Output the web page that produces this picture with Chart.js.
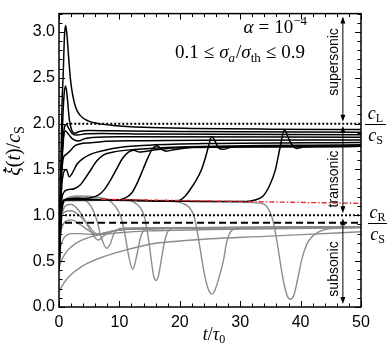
<!DOCTYPE html>
<html>
<head>
<meta charset="utf-8">
<script src="https://cdn.jsdelivr.net/npm/chart.js@4.4.1/dist/chart.umd.min.js"></script>
<style>
  html, body { margin: 0; padding: 0; background: #fff; }
</style>
</head>
<body>
<canvas id="chart" width="392" height="348"></canvas>
<script>
// axis ticks
const xTicks = [0, 10, 20, 30, 40, 50];
const yTicks = [0, 0.5, 1.0, 1.5, 2.0, 2.5, 3.0];

// reference speeds (in units of c_S)
const cL = 2.0;
const cS = 1.0;
const cR = 0.92;
const redLine = [[7, 1.175], [50, 1.13]];

// black curves: end up supersonic, [t/tau0, xi'/cS]
const blackA = [[0,0.6],[0.3,1.5],[0.5,2.2],[0.7,2.55],[0.9,2.95],[1.1,3.07],[1.3,2.98],[1.6,2.72],[1.9,2.48],[2.3,2.3],[2.8,2.17],[3.5,2.09],[4.8,2.03],[6.5,2.0],[9,1.98],[14,1.96],[22,1.948],[35,1.94],[50,1.936]];
const blackB = [[0,0.55],[0.3,1.3],[0.6,2.0],[0.85,2.32],[1.1,2.41],[1.35,2.3],[1.7,2.05],[2.1,1.93],[2.6,1.895],[3.4,1.915],[5,1.925],[9,1.922],[20,1.915],[50,1.907]];
const blackC = [[0,0.5],[0.35,1.4],[0.75,1.88],[1.2,1.99],[1.6,1.95],[2.2,1.89],[3,1.875],[4.5,1.89],[7,1.893],[14,1.888],[50,1.879]];
const blackD = [[0,0.5],[0.35,1.35],[0.7,1.8],[1.05,1.92],[1.5,1.89],[2.3,1.83],[3.2,1.81],[4.2,1.835],[5.5,1.85],[10,1.857],[50,1.851]];
const blackE = [[0,0.5],[0.3,1.25],[0.7,1.62],[1.1,1.66],[1.8,1.7],[2.65,1.76],[3.6,1.78],[4.9,1.79],[7,1.803],[12,1.813],[25,1.82],[50,1.822]];
const blackF = [[0,0.45],[0.3,1.15],[0.7,1.45],[1.2,1.5],[1.7,1.42],[2.2,1.46],[3,1.56],[4,1.62],[5.4,1.67],[7.6,1.71],[10,1.74],[15,1.765],[25,1.783],[50,1.794]];
const blackG = [[0,0.45],[0.3,1.05],[0.7,1.24],[1.5,1.28],[2.5,1.29],[3.5,1.33],[4.4,1.41],[5.3,1.5],[6.2,1.59],[7.4,1.66],[9,1.69],[12,1.715],[20,1.745],[50,1.769]];
const jumpA = [[0,0.4],[0.4,1.05],[1,1.17],[3,1.185],[5,1.19],[6.5,1.22],[7.5,1.28],[8.5,1.38],[9.5,1.5],[10.5,1.62],[11.5,1.69],[12.4,1.71],[13.3,1.69],[14.5,1.7],[18,1.73],[30,1.748],[50,1.752]];
const jumpB = [[0,0.4],[0.4,1.05],[1,1.17],[5,1.175],[10,1.17],[11,1.19],[12,1.24],[13,1.36],[13.9,1.5],[14.8,1.64],[15.5,1.73],[16.2,1.76],[17,1.72],[17.8,1.7],[19,1.715],[22,1.74],[50,1.752]];
const jumpC = [[0,0.4],[0.4,1.05],[1,1.17],[8,1.17],[14,1.16],[18,1.155],[19.8,1.16],[20.9,1.21],[21.8,1.29],[22.6,1.37],[23.6,1.5],[24.2,1.62],[24.7,1.74],[25.3,1.86],[25.9,1.8],[26.5,1.73],[27.2,1.72],[28.3,1.74],[31,1.75],[50,1.752]];
const jumpD = [[0,0.4],[0.4,1.05],[1,1.17],[8,1.17],[18,1.155],[25,1.15],[31,1.15],[32.6,1.17],[33.8,1.21],[34.9,1.33],[35.8,1.49],[36.6,1.74],[37.3,1.93],[38.2,1.81],[38.8,1.75],[39.3,1.73],[40.4,1.745],[43,1.75],[50,1.752]];

// gray curves: end up subsonic
const grayA = [[0,0.4],[0.4,1.05],[1,1.16],[8,1.165],[18,1.155],[25,1.15],[33.5,1.13],[34.5,1.09],[35.3,0.97],[36,0.75],[36.6,0.5],[37.2,0.27],[37.8,0.12],[38.3,0.085],[38.9,0.13],[39.5,0.3],[40.2,0.52],[41,0.68],[41.8,0.76],[43,0.82],[45,0.855],[50,0.87]];
const grayB = [[0,0.4],[0.4,1.05],[1,1.16],[8,1.165],[15,1.16],[19,1.15],[20.5,1.13],[21.5,1.09],[22.3,1.0],[22.9,0.82],[23.5,0.58],[24.2,0.32],[24.8,0.18],[25.3,0.14],[25.8,0.18],[26.4,0.3],[27.2,0.5],[27.8,0.72],[28.4,0.82],[29.5,0.855],[35,0.865],[50,0.875]];
const grayC = [[0,0.4],[0.4,1.05],[1,1.16],[6,1.17],[11.5,1.16],[12.7,1.13],[13.5,1.08],[14.2,0.97],[14.8,0.75],[15.3,0.5],[15.7,0.33],[16.1,0.29],[16.5,0.35],[17,0.54],[17.5,0.72],[18.1,0.83],[19,0.86],[25,0.865],[50,0.875]];
const grayD = [[0,0.5],[0.4,1.0],[1,1.17],[3,1.21],[6,1.2],[8,1.17],[9.3,1.1],[10.2,0.99],[10.9,0.8],[11.5,0.57],[12.2,0.41],[12.9,0.57],[13.5,0.76],[14.2,0.84],[15.5,0.855],[20,0.86],[50,0.875]];
const grayE = [[0,0.5],[0.4,0.98],[1,1.17],[2.6,1.2],[4.2,1.17],[5.3,1.1],[6.2,0.96],[7,0.76],[7.9,0.64],[8.5,0.69],[9.1,0.8],[10.4,0.86],[15,0.865],[50,0.875]];
const grayF = [[0,0.45],[0.4,0.93],[1,1.1],[2,1.12],[3.3,1.05],[4.4,0.93],[5.5,0.8],[6.5,0.73],[7.5,0.78],[9,0.83],[12,0.85],[50,0.875]];
const grayG = [[0,0.8],[0.4,0.97],[1,1.04],[2,1.05],[3.5,0.99],[5,0.88],[6.2,0.8],[7.5,0.8],[9,0.83],[14,0.855],[50,0.87]];
const grayH = [[0,0.7],[0.4,0.85],[1,0.93],[2,0.95],[3.5,0.9],[5,0.83],[6.3,0.79],[7.8,0.81],[10,0.84],[20,0.86],[50,0.87]];
const grayI = [[0,0.6],[0.5,0.71],[1,0.77],[2,0.8],[3.5,0.8],[5.5,0.79],[7,0.8],[9,0.83],[12,0.85],[50,0.868]];
const grayJ = [[0,0.43],[0.5,0.52],[1,0.58],[2.1,0.66],[3.5,0.72],[5,0.76],[7,0.79],[10,0.81],[15,0.83],[25,0.845],[50,0.865]];
const grayK = [[0,0.17],[1,0.28],[2.1,0.36],[3.5,0.43],[4.85,0.48],[7,0.54],[10.4,0.61],[13.4,0.66],[16,0.695],[20,0.72],[25,0.745],[34,0.77],[42,0.795],[50,0.82]];

const blackCurves = [blackA, blackB, blackC, blackD, blackE, blackF, blackG, jumpA, jumpB, jumpC, jumpD];
const grayCurves = [grayA, grayB, grayC, grayD, grayE, grayF, grayG, grayH, grayI, grayJ, grayK];

const toXY = pts => pts.map(([x, y]) => ({ x, y }));
const curve = (pts, color, width) => ({
    data: toXY(pts),
    borderColor: color,
    borderWidth: width,
    pointRadius: 0,
    fill: false,
    cubicInterpolationMode: 'monotone'
});
const hline = (x0, x1, y, dash, color, width) => ({
    data: [{ x: x0, y }, { x: x1, y }],
    borderColor: color,
    borderWidth: width,
    borderDash: dash,
    pointRadius: 0,
    fill: false
});

// first dataset is drawn on top
const datasets = [
    hline(1.2, 50, cL, [2, 2], '#000', 2),
    hline(1.0, 50, cS, [2, 2], '#000', 2),
    hline(1.0, 50, cR, [7, 4], '#000', 2),
    { ...curve(redLine, '#e3262b', 1.3), borderDash: [5, 2, 1.5, 2], cubicInterpolationMode: 'default', tension: 0 },
    ...blackCurves.map(c => curve(c, '#000', 1.5)),
    ...grayCurves.map(c => curve(c, '#8c8c8c', 1.4))
];

const SERIF = '"Liberation Serif", "DejaVu Serif", serif';
const SANS = '"Liberation Sans", Arial, sans-serif';

// draws a row of text pieces: [text, font, dy, gapAfter]
function drawRuns(ctx, runs, x, y, align) {
    let w = 0;
    runs.forEach(r => { ctx.font = r[1]; w += ctx.measureText(r[0]).width + (r[3] || 0); });
    let cx = align === 'right' ? x - w : align === 'center' ? x - w / 2 : x;
    runs.forEach(r => {
        ctx.font = r[1];
        ctx.fillText(r[0], cx, y + (r[2] || 0));
        cx += ctx.measureText(r[0]).width + (r[3] || 0);
    });
    return w;
}

function arrowV(ctx, x, y1, y2) {
    ctx.beginPath();
    ctx.moveTo(x, y1 + 5); ctx.lineTo(x, y2 - 5);
    ctx.stroke();
    ctx.beginPath();
    ctx.moveTo(x, y1); ctx.lineTo(x - 2.5, y1 + 7); ctx.lineTo(x + 2.5, y1 + 7); ctx.closePath();
    ctx.moveTo(x, y2); ctx.lineTo(x - 2.5, y2 - 7); ctx.lineTo(x + 2.5, y2 - 7); ctx.closePath();
    ctx.fill();
}

function fraction(ctx, top, sub1, sub2, x, yBar, w) {
    const it = 'italic 18px ' + SERIF, sb = '12px ' + SERIF;
    ctx.textAlign = 'left';
    drawRuns(ctx, [[top, it], [sub1, sb, 3]], x + w / 2, yBar - 5, 'center');
    drawRuns(ctx, [['c', it], [sub2, sb, 3]], x + w / 2, yBar + 17, 'center');
    ctx.lineWidth = 1;
    ctx.beginPath(); ctx.moveTo(x, yBar + 0.5); ctx.lineTo(x + w, yBar + 0.5); ctx.stroke();
}

const decor = {
    id: 'decor',
    afterDatasetsDraw(chart) {
        const ctx = chart.ctx;
        const xs = chart.scales.x, ys = chart.scales.y;
        const a = chart.chartArea;
        ctx.save();
        ctx.strokeStyle = '#000';
        ctx.fillStyle = '#000';

        // frame
        ctx.lineWidth = 1.5;
        ctx.strokeRect(a.left, a.top, a.right - a.left, a.bottom - a.top);

        // inward ticks on all four sides
        ctx.lineWidth = 1;
        ctx.beginPath();
        for (let i = 0; i <= 25; i++) {
            const px = Math.round(xs.getPixelForValue(i * 2)) + 0.5;
            const len = i % 5 === 0 ? 6 : 3.5;
            ctx.moveTo(px, a.bottom); ctx.lineTo(px, a.bottom - len);
            ctx.moveTo(px, a.top); ctx.lineTo(px, a.top + len);
        }
        for (let i = 0; i <= 32; i++) {
            const py = Math.round(ys.getPixelForValue(i / 10)) + 0.5;
            const len = i % 5 === 0 ? 6 : 3.5;
            ctx.moveTo(a.left, py); ctx.lineTo(a.left + len, py);
            ctx.moveTo(a.right, py); ctx.lineTo(a.right - len, py);
        }
        ctx.stroke();

        // regime arrows
        const ax = xs.getPixelForValue(47);
        ctx.lineWidth = 1;
        arrowV(ctx, ax, a.top + 3, ys.getPixelForValue(cL) - 2);
        arrowV(ctx, ax, ys.getPixelForValue(cL) + 2, ys.getPixelForValue(cS) - 2);
        arrowV(ctx, ax, ys.getPixelForValue(cS) + 3, ys.getPixelForValue(0) - 3);

        ctx.font = '14px ' + SANS;
        ctx.textAlign = 'center';
        ctx.textBaseline = 'alphabetic';
        [['supersonic', 62], ['transonic', 179], ['subsonic', 269]].forEach(([t, cy]) => {
            ctx.save();
            ctx.translate(333.5, cy);
            ctx.rotate(-Math.PI / 2);
            ctx.fillText(t, 0, 4);
            ctx.restore();
        });

        // parameter text
        ctx.textAlign = 'left';
        const it19 = 'italic 19px ' + SERIF, rm19 = '19px ' + SERIF;
        drawRuns(ctx, [['α', it19, 0, 5], ['=', rm19, 0, 5], ['10', rm19], ['−4', '13px ' + SERIF, -8]], 307, 33, 'right');
        drawRuns(ctx, [['0.1', rm19, 0, 5], ['≤', rm19, 0, 5], ['σ', it19], ['a', 'italic 13px ' + SERIF, 4, 1], ['/', rm19], ['σ', it19], ['th', '13px ' + SERIF, 4, 5], ['≤', rm19, 0, 5], ['0.9', rm19]], 305, 58, 'right');

        // speed ratio labels on the right
        fraction(ctx, 'c', 'L', 'S', 365, Math.round(ys.getPixelForValue(cL)), 21);
        fraction(ctx, 'c', 'R', 'S', 368, Math.round(ys.getPixelForValue(cR)), 19);

        // axis titles
        drawRuns(ctx, [['t', 'italic 18px ' + SERIF], ['/', '18px ' + SERIF], ['τ', 'italic 18px ' + SERIF], ['0', '12px ' + SERIF, 3]], 214, 340, 'center');

        ctx.save();
        ctx.translate(20, 151);
        ctx.rotate(-Math.PI / 2);
        const it20 = 'italic 20px ' + SERIF, rm20 = '20px ' + SERIF;
        const yRuns = [['ξ', it20], ['(', rm20], ['t', it20], [')', rm20], ['/', rm20], ['c', it20], ['S', '14px ' + SERIF, 4]];
        const w = drawRuns(ctx, yRuns, 0, 0, 'center');
        ctx.font = it20;
        const xiW = ctx.measureText('ξ').width;
        ctx.beginPath();
        ctx.arc(-w / 2 + xiW * 0.65, -15.5, 1.3, 0, Math.PI * 2);
        ctx.fill();
        ctx.restore();

        ctx.restore();
    }
};

new Chart(document.getElementById('chart'), {
    type: 'line',
    data: { datasets },
    options: {
        responsive: false,
        animation: false,
        devicePixelRatio: 1,
        layout: { padding: { top: 5, right: 31, left: 0, bottom: 0 } },
        plugins: { legend: { display: false }, tooltip: { enabled: false } },
        scales: {
            x: {
                type: 'linear',
                min: 0,
                max: 50,
                afterBuildTicks: s => { s.ticks = xTicks.map(v => ({ value: v })); },
                afterFit: s => { s.height = 41; },
                grid: { display: false, drawTicks: false },
                border: { display: false },
                ticks: { color: '#000', font: { family: SANS, size: 16 }, padding: 6, maxRotation: 0 }
            },
            y: {
                type: 'linear',
                min: 0,
                max: 3.2,
                afterBuildTicks: s => { s.ticks = yTicks.map(v => ({ value: v })); },
                afterFit: s => { s.width = 59; },
                grid: { display: false, drawTicks: false },
                border: { display: false },
                ticks: { color: '#000', font: { family: SANS, size: 16 }, padding: 4, callback: v => v.toFixed(1) }
            }
        }
    },
    plugins: [decor]
});
</script>
</body>
</html>
